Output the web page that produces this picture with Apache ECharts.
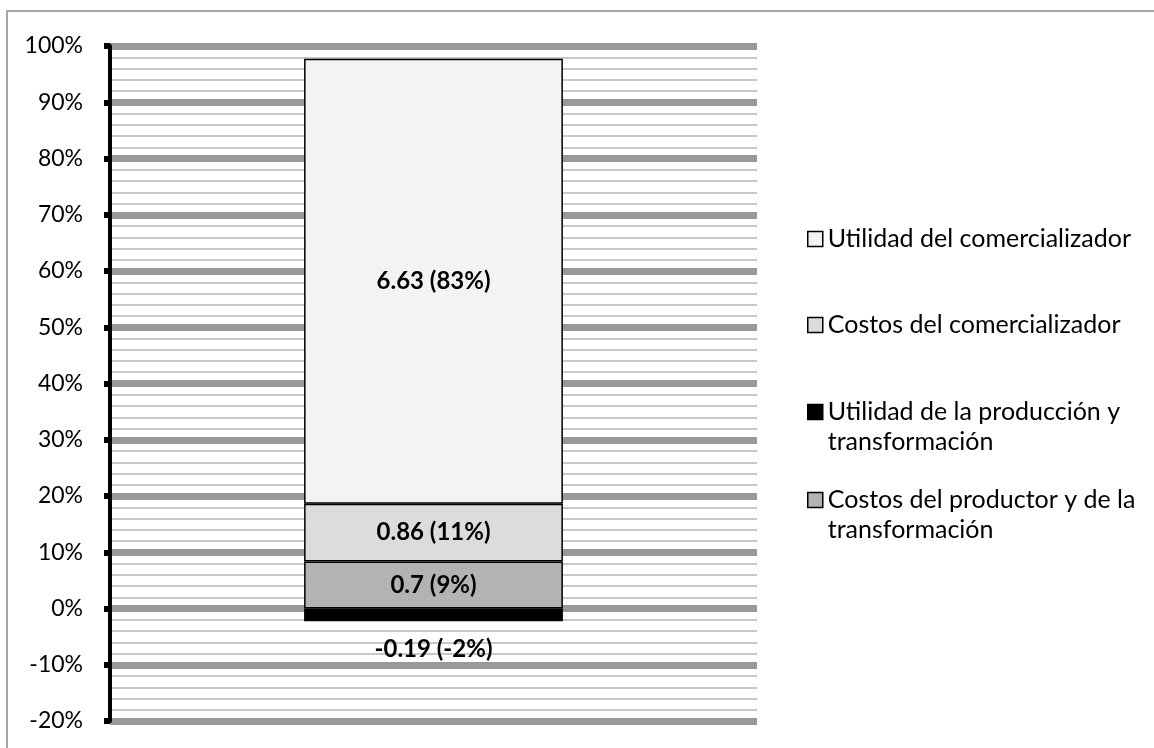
<!DOCTYPE html>
<html>
<head>
<meta charset="utf-8">
<script src="https://cdn.jsdelivr.net/npm/echarts@6/dist/echarts.min.js"></script>
<style>
  html, body { margin: 0; padding: 0; background: #ffffff; }
  #chart { width: 1154px; height: 748px; }
</style>
</head>
<body>
<div id="chart"></div>
<script>
// Price chain breakdown: one 100% stacked column, bottom to top.
const categories = ['Total'];
const seriesNames = [
  'Costos del productor y de la transformación',
  'Utilidad de la producción y transformación',
  'Costos del comercializador',
  'Utilidad del comercializador'
];
const seriesValues = [0.7, -0.19, 0.86, 6.63];
const seriesColors = ['#b3b3b3', '#000000', '#dcdcdc', '#f3f3f3'];

// Legend entries, top to bottom, with their wrapped text.
const legendOrder = [3, 2, 1, 0];
const legendText = {
  'Utilidad del comercializador': ['Utilidad del comercializador'],
  'Costos del comercializador': ['Costos del comercializador'],
  'Utilidad de la producción y transformación': ['Utilidad de la producción y', 'transformación'],
  'Costos del productor y de la transformación': ['Costos del productor y de la', 'transformación']
};
const legendCenters = [239, 325, 412, 500];

// Percent axis range and step.
const yMin = -20;
const yMax = 100;
const yStep = 10;

const FONT = 'Lato, Carlito, Calibri, "Open Sans", sans-serif';

// 100% stacking uses the sum of absolute parts; the labels quote the share of the net total.
const absTotal = seriesValues.reduce((s, v) => s + Math.abs(v), 0);
const netTotal = seriesValues.reduce((s, v) => s + v, 0);

const series = seriesNames.map((name, i) => {
  const v = seriesValues[i];
  return {
    name: name,
    type: 'bar',
    stack: 'total',
    barWidth: '40%',
    data: [v / absTotal * 100],
    itemStyle: { color: seriesColors[i], borderColor: '#000000', borderWidth: 1.5 },
    label: {
      show: true,
      position: v < 0 ? 'bottom' : 'inside',
      distance: 16,
      color: '#000000',
      fontFamily: FONT,
      fontWeight: 'bold',
      fontSize: 24,
      formatter: () => v + ' (' + Math.round(v / netTotal * 100) + '%)'
    }
  };
});

const legends = legendOrder.map((idx, k) => {
  const name = seriesNames[idx];
  const lines = legendText[name];
  const multi = lines.length > 1;
  return {
    orient: 'vertical',
    left: 807,
    top: legendCenters[k] - (multi ? 45 : 15),
    padding: 0,
    itemWidth: 15,
    itemHeight: 15,
    icon: 'rect',
    selectedMode: false,
    data: [name],
    itemStyle: { borderColor: '#000000', borderWidth: 1.5 },
    formatter: () => (multi ? '\n' : '') + lines.join('\n'),
    textStyle: { color: '#000000', fontFamily: FONT, fontSize: 25, lineHeight: 30 }
  };
});

const chart = echarts.init(document.getElementById('chart'), null, { renderer: 'canvas' });
chart.setOption({
  backgroundColor: '#ffffff',
  animation: false,
  graphic: [{
    type: 'rect',
    silent: true,
    z: -10,
    shape: { x: 7, y: 11, width: 1400, height: 1000 },
    style: { fill: 'none', stroke: '#a6a6a6', lineWidth: 2 }
  }],
  legend: legends,
  grid: { left: 110, right: 397, top: 46, bottom: 27, containLabel: false },
  xAxis: {
    type: 'category',
    data: categories,
    show: false
  },
  yAxis: {
    type: 'value',
    min: yMin,
    max: yMax,
    interval: yStep,
    axisLine: { show: true, lineStyle: { color: '#000000', width: 4 } },
    axisTick: { show: true, inside: false, length: 6, lineStyle: { color: '#000000', width: 6 } },
    axisLabel: {
      formatter: '{value}%',
      margin: 27,
      color: '#000000',
      fontFamily: FONT,
      fontSize: 23
    },
    splitLine: { show: true, lineStyle: { color: '#999999', width: 7 } },
    minorTick: { show: false, splitNumber: 5 },
    minorSplitLine: { show: true, lineStyle: { color: '#c8c8c8', width: 2 } }
  },
  series: series
});
</script>
</body>
</html>
